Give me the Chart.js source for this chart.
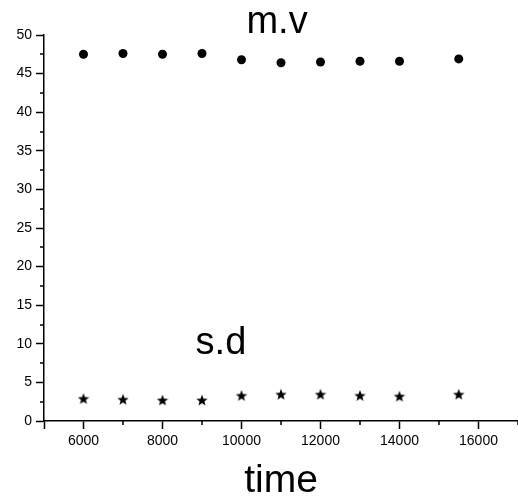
<!DOCTYPE html>
<html>
<head>
<meta charset="utf-8">
<script src="https://cdn.jsdelivr.net/npm/chart.js@4"></script>
<style>
  html, body { margin: 0; padding: 0; background: #fff; }
  #wrap { width: 518px; height: 498px; }
</style>
</head>
<body>
<div id="wrap"><canvas id="chart" width="518" height="498"></canvas></div>
<script>
// time values (x) and the two measured series
const times = [6000, 7000, 8000, 9000, 10000, 11000, 12000, 13000, 14000, 15500];
const meanValues = [47.5, 47.6, 47.5, 47.6, 46.8, 46.4, 46.5, 46.6, 46.6, 46.9];
const sdValues = [2.9, 2.8, 2.7, 2.7, 3.3, 3.45, 3.45, 3.3, 3.2, 3.45];

// axis ranges
const xMin = 5000, xMax = 17000, xStep = 1000;
const yMin = 0, yMax = 50, yStep = 2.5;

// in-plot text labels (data coordinates)
const plotLabels = [
  { text: 'm.v', x: 10900, y: 50.3, size: 38 },
  { text: 's.d', x: 9480, y: 8.7, size: 38 }
];

const FONT = '"Liberation Sans", Arial, sans-serif';

// filled five point star used as the s.d marker
function makeStar(size) {
  const c = document.createElement('canvas');
  c.width = size; c.height = size;
  const g = c.getContext('2d');
  const cx = size / 2, cy = size / 2 + 0.5;
  const outer = size / 2, inner = outer * 0.42;
  g.beginPath();
  for (let i = 0; i < 10; i++) {
    const r = i % 2 ? inner : outer;
    const a = -Math.PI / 2 + i * Math.PI / 5;
    g.lineTo(cx + r * Math.cos(a), cy + r * Math.sin(a));
  }
  g.closePath();
  g.fillStyle = '#000';
  g.fill();
  return c;
}

const isMajorX = v => v === xMin || v % 2000 === 0;
const isMajorY = v => v % 5 === 0;

// short minor ticks and the in-plot labels
const extras = {
  id: 'extras',
  afterDraw(chart) {
    const { ctx, scales: { x, y } } = chart;
    ctx.save();
    ctx.strokeStyle = '#000';
    ctx.lineWidth = 1.5;
    ctx.beginPath();
    x.ticks.filter(t => !isMajorX(t.value)).forEach(t => {
      const px = Math.round(x.getPixelForValue(t.value));
      ctx.moveTo(px, x.top);
      ctx.lineTo(px, x.top + 4);
    });
    y.ticks.filter(t => !isMajorY(t.value)).forEach(t => {
      const py = Math.round(y.getPixelForValue(t.value));
      ctx.moveTo(y.right, py);
      ctx.lineTo(y.right - 4, py);
    });
    ctx.stroke();

    ctx.fillStyle = '#000';
    ctx.textAlign = 'center';
    ctx.textBaseline = 'alphabetic';
    plotLabels.forEach(l => {
      ctx.font = l.size + 'px ' + FONT;
      ctx.fillText(l.text, x.getPixelForValue(l.x), y.getPixelForValue(l.y));
    });
    ctx.restore();
  }
};

const ctx = document.getElementById('chart').getContext('2d');
new Chart(ctx, {
  type: 'scatter',
  data: {
    datasets: [
      {
        label: 'm.v',
        data: times.map((t, i) => ({ x: t, y: meanValues[i] })),
        pointStyle: 'circle',
        pointRadius: 4.5,
        pointBackgroundColor: '#000',
        pointBorderWidth: 0
      },
      {
        label: 's.d',
        data: times.map((t, i) => ({ x: t, y: sdValues[i] })),
        pointStyle: makeStar(12),
        pointRadius: 6
      }
    ]
  },
  options: {
    responsive: false,
    animation: false,
    events: [],
    layout: { autoPadding: false, padding: { top: 35, right: 0, left: 0, bottom: 0 } },
    plugins: {
      legend: { display: false },
      tooltip: { enabled: false }
    },
    scales: {
      x: {
        type: 'linear',
        min: xMin,
        max: xMax,
        afterFit: s => { s.height = 77; s.paddingRight = 0; s.paddingLeft = 0; },
        border: { display: true, color: '#000', width: 1.5 },
        grid: {
          drawOnChartArea: false,
          drawTicks: true,
          tickLength: 8,
          tickWidth: 1.5,
          tickColor: c => isMajorX(c.tick.value) ? '#000' : 'rgba(0,0,0,0)'
        },
        ticks: {
          stepSize: xStep,
          autoSkip: false,
          maxRotation: 0,
          padding: 4,
          color: '#000',
          font: { family: FONT, size: 14 },
          callback: v => (v % 2000 === 0 ? String(v) : '')
        },
        title: {
          display: true,
          text: 'time',
          color: '#000',
          padding: 0,
          font: { family: FONT, size: 39, lineHeight: 0.88 }
        }
      },
      y: {
        type: 'linear',
        min: yMin,
        max: yMax,
        afterFit: s => { s.width = 44; },
        border: { display: true, color: '#000', width: 1.5 },
        grid: {
          drawOnChartArea: false,
          drawTicks: true,
          tickLength: 8,
          tickWidth: 1.5,
          tickColor: c => isMajorY(c.tick.value) ? '#000' : 'rgba(0,0,0,0)'
        },
        ticks: {
          stepSize: yStep,
          autoSkip: false,
          padding: 4,
          color: '#000',
          font: { family: FONT, size: 14 },
          callback: v => (isMajorY(v) ? String(v) : '')
        }
      }
    }
  },
  plugins: [extras]
});
</script>
</body>
</html>
